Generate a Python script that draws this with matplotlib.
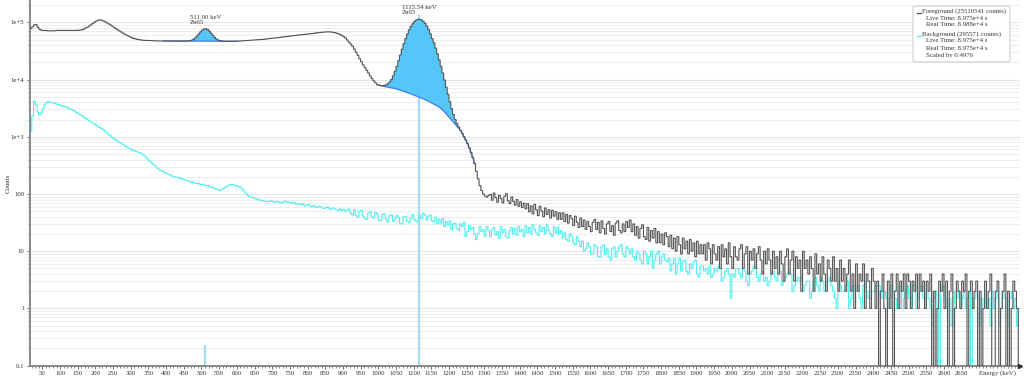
import numpy as np
import matplotlib
matplotlib.use("Agg")
import matplotlib.pyplot as plt
from matplotlib.patches import FancyBboxPatch
from matplotlib.lines import Line2D
from matplotlib.ticker import FixedLocator, MultipleLocator, LogLocator, NullFormatter

# ---------------- data ----------------
bin_start_kev = 15
bin_width_kev = 5

# foreground counts per bin, bin centres 17.5, 22.5, ... keV (one row = 100 keV)
foreground = [
    7.8e4, 8.3e4, 9.0e4, 9.1e4, 8.2e4, 7.5e4, 7.3e4, 7.2e4, 7.2e4, 7.15e4, 7.1e4, 7.1e4, 7.1e4, 7.1e4, 7.15e4, 7.2e4, 7.2e4, 7.2e4, 7.2e4, 7.2e4,
    7.2e4, 7.2e4, 7.2e4, 7.2e4, 7.2e4, 7.2e4, 7.2e4, 7.25e4, 7.3e4, 7.4e4, 7.6e4, 7.9e4, 8.2e4, 8.6e4, 9.0e4, 9.5e4, 1.0e5, 1.05e5, 1.09e5, 1.1e5,
    1.09e5, 1.06e5, 1.02e5, 9.8e4, 9.4e4, 9.0e4, 8.6e4, 8.2e4, 7.8e4, 7.4e4, 7.1e4, 6.8e4, 6.5e4, 6.2e4, 6.0e4, 5.8e4, 5.6e4, 5.4e4, 5.25e4, 5.15e4,
    5.05e4, 4.98e4, 4.92e4, 4.88e4, 4.85e4, 4.82e4, 4.8e4, 4.8e4, 4.78e4, 4.76e4, 4.75e4, 4.74e4, 4.72e4, 4.71e4, 4.7e4, 4.7e4, 4.7e4, 4.7e4, 4.7e4, 4.7e4,
    4.7e4, 4.7e4, 4.7e4, 4.7e4, 4.7e4, 4.7e4, 4.7e4, 4.7e4, 4.7e4, 4.7e4, 4.77e4, 4.87e4, 5.04e4, 5.31e4, 5.72e4, 6.24e4, 6.8e4, 7.3e4, 7.63e4, 7.69e4,
    7.46e4, 7.0e4, 6.44e4, 5.9e4, 5.44e4, 5.1e4, 4.9e4, 4.78e4, 4.72e4, 4.68e4, 4.65e4, 4.65e4, 4.65e4, 4.65e4, 4.65e4, 4.65e4, 4.67e4, 4.68e4, 4.7e4, 4.72e4,
    4.75e4, 4.77e4, 4.8e4, 4.82e4, 4.85e4, 4.87e4, 4.9e4, 4.92e4, 4.95e4, 4.97e4, 5.0e4, 5.02e4, 5.05e4, 5.1e4, 5.15e4, 5.2e4, 5.25e4, 5.28e4, 5.3e4, 5.35e4,
    5.4e4, 5.45e4, 5.5e4, 5.55e4, 5.6e4, 5.65e4, 5.7e4, 5.75e4, 5.8e4, 5.85e4, 5.9e4, 5.95e4, 6.0e4, 6.05e4, 6.1e4, 6.15e4, 6.2e4, 6.25e4, 6.3e4, 6.35e4,
    6.4e4, 6.48e4, 6.55e4, 6.6e4, 6.65e4, 6.7e4, 6.75e4, 6.78e4, 6.8e4, 6.8e4, 6.75e4, 6.68e4, 6.6e4, 6.45e4, 6.3e4, 6.1e4, 5.9e4, 5.6e4, 5.3e4, 4.9e4,
    4.5e4, 4.15e4, 3.8e4, 3.4e4, 3.0e4, 2.65e4, 2.3e4, 2.05e4, 1.8e4, 1.62e4, 1.45e4, 1.3e4, 1.15e4, 1.04e4, 9.5e3, 8.7e3, 8.1e3, 7.9e3, 7.8e3, 7.8e3,
    7.9e3, 8.08e3, 8.43e3, 9.05e3, 1.0e4, 1.16e4, 1.39e4, 1.7e4, 2.13e4, 2.68e4, 3.38e4, 4.22e4, 5.19e4, 6.24e4, 7.36e4, 8.44e4, 9.45e4, 1.03e5, 1.09e5, 1.124e5,
    1.126e5, 1.096e5, 1.038e5, 9.54e4, 8.53e4, 7.42e4, 6.28e4, 5.18e4, 4.4e4, 3.55e4, 2.8e4, 2.2e4, 1.7e4, 1.3e4, 9.8e3, 7.3e3, 5.5e3, 4.1e3, 3.1e3, 2.45e3,
    2.0e3, 1.7e3, 1.48e3, 1.3e3, 1.15e3, 1.0e3, 880, 760, 640, 530, 430, 340, 250, 185, 140, 115, 100, 92, 88, 95,
    98, 78, 104, 86, 72, 95, 83, 70, 91, 101, 76, 68, 89, 74, 64, 80, 61, 73, 58, 69,
    55, 68, 49, 62, 45, 66, 53, 42, 61, 50, 40, 57, 44, 53, 38, 52, 41, 49, 36, 47,
    36, 47, 33, 44, 31, 42, 37, 28, 41, 32, 26, 38, 27, 35, 24, 33, 27, 22, 32, 36,
    24, 32, 21, 34, 25, 20, 30, 33, 22, 28, 19, 31, 34, 23, 21, 30, 22, 33, 26, 35,
    22, 30, 19, 27, 17, 25, 29, 18, 16, 26, 15, 23, 17, 25, 14, 22, 14, 20, 13, 21,
    18, 12, 19, 11, 17, 10, 18, 13, 9, 17, 11, 15, 9, 16, 10, 14, 8, 15, 9, 13,
    9, 13, 7, 14, 11, 6, 13, 9, 7, 12, 5, 13, 8, 11, 6, 14, 8, 5, 12, 8,
    7, 11, 13, 5, 9, 12, 4, 10, 7, 11, 5, 9, 12, 7, 4, 10, 6, 11, 7, 4,
    10, 5, 8, 4, 10, 6, 3, 8, 11, 4, 7, 10, 3, 8, 5, 7, 2, 10, 5, 7,
    4, 8, 5, 2, 9, 4, 6, 3, 8, 4, 2, 7, 5, 3, 8, 3, 5, 2, 7, 3,
    5, 2, 4, 7, 2, 4, 1, 6, 2, 4, 3, 6, 1, 4, 3, 1, 5, 3, 1, 3,
    0, 2, 4, 1, 0, 3, 1, 4, 0, 2, 4, 1, 3, 2, 4, 1, 4, 3, 1, 3,
    2, 4, 1, 4, 2, 3, 1, 3, 2, 4, 0, 2, 0, 1, 3, 2, 4, 1, 3, 0,
    2, 4, 0, 1, 3, 2, 1, 3, 2, 4, 0, 2, 3, 1, 2, 3, 0, 2, 0, 1,
    3, 1, 2, 4, 0, 0, 2, 3, 0, 1, 2, 4, 0, 2, 0, 1, 3, 2, 1, 0,
]

# background (already scaled by 0.4976), same bins
background = [
    1.25e3, 2.3e3, 4.2e3, 3.6e3, 2.7e3, 2.4e3, 2.6e3, 3.1e3, 3.7e3, 4.0e3, 4.1e3, 4.05e3, 3.95e3, 3.85e3, 3.75e3, 3.7e3, 3.6e3, 3.55e3, 3.45e3, 3.4e3,
    3.3e3, 3.2e3, 3.1e3, 3.0e3, 2.9e3, 2.8e3, 2.65e3, 2.5e3, 2.42e3, 2.35e3, 2.2e3, 2.1e3, 2.0e3, 1.9e3, 1.82e3, 1.75e3, 1.68e3, 1.6e3, 1.52e3, 1.45e3,
    1.4e3, 1.33e3, 1.25e3, 1.18e3, 1.1e3, 1.04e3, 980, 930, 880, 840, 800, 770, 740, 700, 670, 640, 620, 600, 580, 560,
    550, 530, 520, 500, 470, 440, 410, 380, 355, 335, 315, 295, 275, 262, 252, 244, 236, 228, 220, 214,
    205, 200, 198, 194, 190, 186, 182, 178, 172, 168, 165, 162, 158, 155, 152, 150, 148, 146, 144, 142,
    140, 136, 132, 128, 125, 122, 118, 117, 120, 125, 131, 137, 142, 145, 146, 143, 140, 137, 133, 128,
    118, 108, 100, 94, 90, 87, 85, 83, 81, 79, 78, 76, 75, 74, 73, 75, 76, 74, 72, 73,
    74, 71, 70, 73, 75, 72, 73, 70, 69, 71, 66, 68, 67, 65, 68, 62, 64, 65, 61, 60,
    63, 59, 58, 61, 60, 57, 56, 58, 59, 55, 54, 57, 55, 53, 52, 55, 51, 54, 50, 52,
    55, 46, 43, 53, 42, 39, 50, 52, 41, 37, 36, 46, 50, 40, 38, 48, 45, 35, 34, 44,
    45, 36, 32, 42, 43, 33, 36, 42, 39, 31, 30, 40, 41, 33, 32, 38, 44, 36, 34, 33,
    42, 37, 46, 43, 35, 41, 43, 34, 33, 39, 30, 36, 31, 37, 27, 33, 29, 34, 24, 30,
    31, 25, 23, 30, 27, 32, 18, 22, 28, 24, 26, 20, 16, 20, 27, 22, 24, 18, 27, 23,
    18, 24, 26, 19, 22, 17, 27, 21, 24, 18, 17, 23, 26, 20, 25, 19, 27, 22, 24, 18,
    28, 21, 26, 20, 29, 24, 21, 19, 28, 22, 26, 20, 29, 23, 20, 18, 27, 21, 26, 20,
    23, 17, 21, 16, 15, 20, 18, 14, 13, 18, 15, 12, 15, 10, 11, 14, 12, 9, 9, 13,
    12, 8, 8, 12, 13, 9, 11, 8, 7, 11, 12, 8, 10, 12, 13, 9, 8, 12, 11, 9,
    11, 8, 7, 10, 9, 7, 6, 10, 9, 6, 8, 10, 5, 7, 9, 10, 6, 8, 9, 7,
    6.5, 7.5, 4.5, 6, 7.5, 4, 6, 7.5, 4.5, 6.5, 7, 4.5, 4, 6, 5, 6.5, 7, 4, 3.5, 5.5,
    5.5, 4.5, 5, 4, 5.5, 3.5, 4, 5, 4.5, 5.5, 5, 3, 3.5, 4.5, 5, 4, 1.5, 4, 3.5, 5,
    5, 4, 3.5, 5, 4.5, 3, 2.5, 4, 4.5, 5.5, 5, 3.5, 3, 4, 4.5, 3, 3.5, 2.5, 3, 4,
    4.5, 3.5, 3, 4, 4.5, 2.5, 3, 3.5, 4, 4.5, 4, 2, 2.5, 3, 3.5, 3, 3.5, 2, 2.5, 3,
    3, 1.5, 2, 3, 3.5, 2.5, 2, 3.5, 3, 2, 2.5, 3, 3.5, 2.5, 2, 1.5, 1, 3, 2.5, 2,
    2, 2.5, 3, 1, 1.5, 2.5, 2, 2, 2.5, 1.5, 1, 2.5, 3, 2, 1.5, 1.5, 2, 2, 2.5, 2.5,
    2.5, 1.5, 2, 2, 1.5, 1, 1.5, 2.5, 2, 1.5, 1, 2, 2.5, 1, 1.5, 2, 2.5, 1.5, 1, 2.5,
    2.5, 1, 1.5, 2, 2.5, 1.5, 1, 2, 1.5, 1, 0.5, 1.5, 2, 1, 0, 2, 2.5, 1.5, 1, 1,
    1.5, 0.5, 1, 2, 1.5, 2, 1, 1.5, 2, 1, 1.5, 2, 0, 1, 1.5, 2, 1, 0.5, 1.5, 1,
    2, 1, 1.5, 0.5, 2, 1, 1.5, 2, 0.5, 1, 2, 1.5, 1, 0.5, 1.5, 2, 1, 1.5, 0.5, 1,
]

# peaks and their fitted continua (one value per bin from the ROI's first bin centre)
peak_energies = [511.00, 1115.54]
peak_nuclides = ["Zn65", "Zn65"]
roi_first_bin = [392.5, 1002.5]
roi_continuum = [
    [4.7e4] * 15 +
    [4.7e4, 4.7e4, 4.7e4, 4.7e4, 4.69e4, 4.69e4, 4.69e4, 4.69e4, 4.68e4, 4.68e4,
     4.68e4, 4.68e4, 4.67e4, 4.67e4, 4.67e4, 4.67e4, 4.66e4, 4.66e4, 4.66e4, 4.66e4] +
    [4.65e4] * 8,
    [8.0e3, 7.8e3, 7.7e3, 7.55e3, 7.45e3, 7.35e3, 7.25e3, 7.15e3, 7.05e3, 6.95e3,
     6.8e3, 6.65e3, 6.5e3, 6.35e3, 6.2e3, 6.05e3, 5.9e3, 5.75e3, 5.6e3, 5.45e3,
     5.3e3, 5.15e3, 5.0e3, 4.85e3, 4.7e3, 4.6e3, 4.45e3, 4.3e3, 4.15e3, 4.0e3,
     3.85e3, 3.7e3, 3.57e3, 3.45e3, 3.3e3, 3.1e3, 2.9e3, 2.7e3, 2.5e3, 2.3e3,
     2.1e3, 1.95e3, 1.8e3, 1.65e3, 1.52e3, 1.4e3, 1.3e3, 1.15e3, 1.0e3, 880,
     760, 640, 530, 430, 340],
]
peak_marker_top = [0.23, 1.35e5]

x_major_ticks = list(range(50, 2700, 50))
y_ticks = [0.1, 1, 10, 100, 1e3, 1e4, 1e5]
y_tick_labels = ["0.1", "1", "10", "100", "1e+3", "1e+4", "1e+5"]

legend_fg = ["Foreground (25510541 counts)", "Live Time: 8.975e+4 s", "Real Time: 8.988e+4 s"]
legend_bg = ["Background (295571 counts)", "Live Time: 8.975e+4 s", "Real Time: 8.975e+4 s",
             "Scaled by 0.4976"]

# ---------------- styling ----------------
FONT = "Liberation Serif"
FS = 4.9
FG_COLOR = "#555555"
BG_COLOR = "#4ff0f0"
FILL_COLOR = "#55c6f7"
CONT_COLOR = "#3a7ee8"
MARK_COLOR = "#a6dcf2"
TXT = "#333333"

W, H = 1024, 379
fig = plt.figure(figsize=(W / 100, H / 100), dpi=100)
ax = fig.add_axes([30 / W, 1 - 365.7 / H, (1020 - 30) / W, 365.7 / H])

fg = np.array(foreground, dtype=float)
bg = np.array(background, dtype=float)
n = min(len(fg), len(bg))
fg, bg = fg[:n], bg[:n]
edges = bin_start_kev + bin_width_kev * np.arange(n + 1)
centers = edges[:-1] + bin_width_kev / 2.0
floor = 1e-3

ax.set_yscale("log")
ax.set_xlim(15, 2815)
ax.set_ylim(0.1, 2.45e5)

# grid
ax.yaxis.set_major_locator(FixedLocator(y_ticks))
ax.yaxis.set_minor_locator(LogLocator(base=10, subs=np.arange(2, 10)))
ax.yaxis.set_minor_formatter(NullFormatter())
ax.grid(True, which="major", axis="y", color="#e6e6e6", lw=0.8, zorder=0)
ax.grid(True, which="minor", axis="y", color="#eeeeee", lw=0.8, zorder=0)
ax.set_axisbelow(True)

# peak marker lines
for e, top in zip(peak_energies, peak_marker_top):
    ax.plot([e, e], [0.1, top], color=MARK_COLOR, lw=1.6, zorder=1, solid_capstyle="butt")

# background
ax.stairs(np.where(bg > 0, bg, floor), edges, color=BG_COLOR, lw=0.8, zorder=2, baseline=None)

# peak fills + continua
for start, cont in zip(roi_first_bin, roi_continuum):
    i0 = int(np.argmin(np.abs(centers - start)))
    c = np.array(cont, dtype=float)
    xs = centers[i0:i0 + len(c)]
    ys = fg[i0:i0 + len(c)]
    ax.fill_between(xs, c, ys, where=ys >= c, step="mid", color=FILL_COLOR, lw=0, zorder=3)
    ax.plot(xs, c, color=CONT_COLOR, lw=0.9, zorder=4)

# foreground
ax.stairs(np.where(fg > 0, fg, floor), edges, color=FG_COLOR, lw=0.8, zorder=5, baseline=None)

# peak labels
for e, nuc in zip(peak_energies, peak_nuclides):
    i = int(np.argmin(np.abs(centers - e)))
    top = fg[max(i - 1, 0):i + 2].max()
    ax.annotate(f"{e:.2f} keV\n{nuc}", xy=(e, top), xytext=(0, 4), textcoords="offset pixels",
                ha="center", va="bottom", multialignment="left", fontsize=FS,
                family=FONT, color=TXT, linespacing=1.0, zorder=6)

# axes styling
for s in ("top", "right"):
    ax.spines[s].set_visible(False)
for s in ("left", "bottom"):
    ax.spines[s].set_color("#888888")
    ax.spines[s].set_linewidth(1.4)

ax.set_yticklabels(y_tick_labels)
ax.xaxis.set_major_locator(FixedLocator(x_major_ticks))
ax.xaxis.set_minor_locator(MultipleLocator(10))
ax.tick_params(axis="both", which="major", length=2.5, width=0.6, color="#555555",
               labelsize=FS, labelcolor=TXT, pad=1.5)
ax.tick_params(axis="both", which="minor", length=1.5, width=0.5, color="#555555")
for lab in ax.get_xticklabels() + ax.get_yticklabels():
    lab.set_family(FONT)

# x-axis arrow
ax.plot([1.0], [0.0], marker=">", markersize=3, color="#333333", transform=ax.transAxes,
        clip_on=False, zorder=10)

fig.text(997 / W, 1 - 373 / H, "Energy (keV)", ha="center", va="center", fontsize=FS,
         family=FONT, color=TXT)
fig.text(8 / W, 1 - 183 / H, "Counts", ha="center", va="center", rotation=90, fontsize=FS,
         family=FONT, color=TXT)

# legend box
box = FancyBboxPatch((913 / W, 1 - 62 / H), 97 / W, 56 / H,
                     boxstyle="round,pad=0,rounding_size=0.004", transform=fig.transFigure,
                     facecolor="white", edgecolor="#c8c8c8", lw=0.7, zorder=20)
fig.patches.append(box)

def legend_block(lines, y0, color):
    fig.add_artist(Line2D([916.5 / W, 920.5 / W], [1 - (y0 + 1.5) / H] * 2, color=color,
                          lw=0.9, transform=fig.transFigure, zorder=21))
    for k, t in enumerate(lines):
        xx = 922.5 if k == 0 else 925.5
        fig.text(xx / W, 1 - (y0 + k * 7.0) / H, t, ha="left", va="center", fontsize=FS,
                 family=FONT, color=TXT, zorder=22)

legend_block(legend_fg, 11, FG_COLOR)
legend_block(legend_bg, 34, BG_COLOR)

fig.savefig("out.png", dpi=100)
